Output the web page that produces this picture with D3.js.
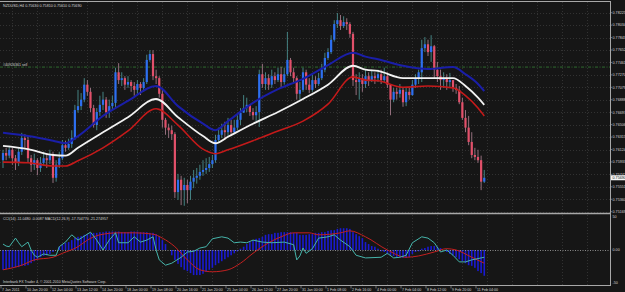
<!DOCTYPE html>
<html>
<head>
<meta charset="utf-8">
<script src="https://cdn.jsdelivr.net/npm/d3@7"></script>
<style>
  html, body { margin: 0; padding: 0; background: #161616; overflow: hidden; }
  svg { display: block; }
  text { font-family: "Liberation Sans", "DejaVu Sans", sans-serif; }
</style>
</head>
<body>
<div id="chart"></div>
<script>
// NZDUSD H4 candles, 7 Jan - 11 Feb 2011
const symbolTitle = "NZDUSD,H4";
const firstOpen = 0.7596;

const closes = [
  0.7607,0.7603,0.7612,0.7599,0.7593,0.7609,0.7630,0.7627,0.7599,0.7589,
  0.7596,0.7584,0.7592,0.7599,0.7596,0.7604,0.7569,0.7589,0.7599,0.7619,
  0.7615,0.7621,0.7630,0.7673,0.7679,0.7689,0.7712,0.7701,0.7676,0.7650,
  0.7670,0.7681,0.7689,0.7670,0.7679,0.7684,0.7731,0.7719,0.7722,0.7712,
  0.7716,0.7710,0.7704,0.7713,0.7707,0.7716,0.7750,0.7759,0.7725,0.7722,
  0.7698,0.7658,0.7646,0.7642,0.7636,0.7547,0.7566,0.7550,0.7558,0.7550,
  0.7563,0.7569,0.7572,0.7578,0.7581,0.7584,0.7590,0.7596,0.7627,0.7635,
  0.7642,0.7639,0.7650,0.7639,0.7646,0.7658,0.7669,0.7676,0.7681,0.7670,
  0.7665,0.7670,0.7728,0.7713,0.7722,0.7712,0.7725,0.7719,0.7728,0.7716,
  0.7728,0.7750,0.7731,0.7722,0.7698,0.7704,0.7731,0.7712,0.7704,0.7719,
  0.7713,0.7722,0.7735,0.7753,0.7762,0.7781,0.7805,0.7811,0.7802,0.7808,
  0.7805,0.7790,0.7719,0.7716,0.7722,0.7713,0.7725,0.7719,0.7725,0.7722,
  0.7728,0.7719,0.7725,0.7712,0.7689,0.7701,0.7698,0.7704,0.7685,0.7701,
  0.7696,0.7712,0.7722,0.7731,0.7768,0.7774,0.7762,0.7771,0.7735,0.7725,
  0.7719,0.7722,0.7716,0.7719,0.7707,0.7704,0.7685,0.7661,0.7646,0.7624,
  0.7604,0.7601,0.7596,0.7563,0.7569
];
const highs = [
  0.7612,0.7615,0.7618,0.7615,0.7604,0.7615,0.7638,0.7636,0.7633,0.7604,
  0.7606,0.7599,0.7601,0.7609,0.7607,0.7612,0.7609,0.7596,0.7609,0.7627,
  0.7626,0.7629,0.7642,0.7681,0.7704,0.7699,0.7722,0.7719,0.7707,0.7681,
  0.7676,0.7695,0.7701,0.7693,0.7689,0.7695,0.7738,0.7745,0.7731,0.7725,
  0.7725,0.7719,0.7716,0.7719,0.7716,0.7722,0.7758,0.7765,0.7765,0.7735,
  0.7725,0.7704,0.7661,0.7652,0.7649,0.7639,0.7575,0.7572,0.7569,0.7566,
  0.7572,0.7581,0.7584,0.7589,0.7596,0.7599,0.7601,0.7604,0.7635,0.7646,
  0.7652,0.7655,0.7661,0.7658,0.7658,0.7665,0.7676,0.7696,0.7692,0.7682,
  0.7676,0.7679,0.7735,0.7744,0.7731,0.7728,0.7735,0.7731,0.7738,0.7739,
  0.7738,0.7793,0.7753,0.7738,0.7725,0.7716,0.7738,0.7735,0.7722,0.7727,
  0.7725,0.7730,0.7744,0.7761,0.7768,0.7788,0.7811,0.7822,0.7819,0.7817,
  0.7814,0.7808,0.7793,0.7728,0.7731,0.7728,0.7735,0.7731,0.7735,0.7731,
  0.7735,0.7735,0.7738,0.7731,0.7713,0.7707,0.7707,0.7713,0.7707,0.7707,
  0.7707,0.7719,0.7728,0.7735,0.7781,0.7785,0.7781,0.7788,0.7773,0.7747,
  0.7735,0.7731,0.7728,0.7730,0.7719,0.7713,0.7710,0.7692,0.7673,0.7664,
  0.7639,0.7615,0.7612,0.7603,0.7581
];
const lows = [
  0.7584,0.7596,0.7599,0.7589,0.7581,0.7587,0.7604,0.7615,0.7593,0.7578,
  0.7581,0.7573,0.7578,0.7587,0.7584,0.7590,0.7561,0.7563,0.7584,0.7596,
  0.7609,0.7612,0.7615,0.7627,0.7669,0.7673,0.7685,0.7695,0.7670,0.7646,
  0.7642,0.7664,0.7673,0.7661,0.7661,0.7673,0.7676,0.7713,0.7710,0.7704,
  0.7707,0.7701,0.7695,0.7698,0.7696,0.7701,0.7713,0.7747,0.7719,0.7713,
  0.7692,0.7646,0.7635,0.7630,0.7627,0.7538,0.7535,0.7527,0.7526,0.7530,
  0.7535,0.7553,0.7560,0.7566,0.7572,0.7575,0.7578,0.7584,0.7592,0.7624,
  0.7630,0.7627,0.7632,0.7633,0.7636,0.7642,0.7650,0.7669,0.7670,0.7664,
  0.7658,0.7655,0.7647,0.7707,0.7704,0.7704,0.7707,0.7713,0.7716,0.7707,
  0.7712,0.7725,0.7725,0.7716,0.7689,0.7689,0.7701,0.7704,0.7699,0.7701,
  0.7707,0.7710,0.7719,0.7731,0.7750,0.7759,0.7778,0.7799,0.7796,0.7799,
  0.7796,0.7784,0.7710,0.7696,0.7689,0.7701,0.7707,0.7710,0.7716,0.7713,
  0.7716,0.7713,0.7716,0.7707,0.7665,0.7685,0.7689,0.7692,0.7678,0.7679,
  0.7689,0.7695,0.7707,0.7713,0.7716,0.7762,0.7756,0.7747,0.7722,0.7716,
  0.7704,0.7707,0.7704,0.7707,0.7701,0.7698,0.7682,0.7658,0.7639,0.7619,
  0.7599,0.7596,0.7592,0.7550,0.7561
];

// moving average band, read at these bar indices
const maIdx    = [0,8,16,20,24,32,40,49,56,64,68,72,80,88,96,104,112,116,120,128,136,144,148,152,154];
const maUpper  = [0.7638,0.7633,0.7626,0.7622,0.7633,0.7664,0.7687,0.7710,0.7679,0.7652,0.7642,0.7656,0.7684,0.7705,0.7721,0.7742,0.7761,0.7755,0.7751,0.7741,0.7736,0.7739,0.7728,0.7713,0.7702];
const maMiddle = [0.7618,0.7613,0.7604,0.7603,0.7615,0.7639,0.7662,0.7690,0.7662,0.7633,0.7622,0.7632,0.7652,0.7670,0.7690,0.7712,0.7741,0.7735,0.7733,0.7722,0.7722,0.7722,0.7710,0.7692,0.7681];
const maLower  = [0.7593,0.7592,0.7587,0.7587,0.7595,0.7615,0.7641,0.7675,0.7650,0.7613,0.7606,0.7612,0.7626,0.7641,0.7656,0.7682,0.7724,0.7719,0.7718,0.7708,0.7710,0.7707,0.7695,0.7676,0.7664];

// sub window: MACD histogram (one per bar), signal and CCI
const macdHist = [
  -30,-29,-27,-27,-26,-26,-24,-24,-23,-20,
  -17,-14,-11,-9,-8,-6,-3,0,5,8,
  11,12,15,18,20,21,23,24,26,26,
  26,27,27,28,28,28,28,28,27,27,
  27,28,28,28,27,27,27,26,26,24,
  21,15,9,0,-8,-15,-21,-26,-30,-32,
  -35,-38,-38,-38,-36,-33,-30,-27,-23,-20,
  -17,-14,-11,-8,-5,-2,2,5,9,12,
  15,17,18,20,23,24,24,26,26,27,
  27,27,27,26,26,23,23,23,24,24,
  26,26,27,27,29,30,30,32,33,33,
  33,32,27,24,21,18,12,9,6,5,
  2,-2,-3,-6,-8,-9,-11,-11,-12,-12,
  -11,-6,-3,-2,2,3,5,6,6,5,
  3,0,-3,-6,-8,-11,-14,-17,-20,-23,
  -24,-27,-32,-35,-39
];
const signalIdx  = [0,6,10,16,19,24,27,31,37,42,48,51,55,59,63,67,72,76,80,85,89,93,98,101,108,111,116,123,129,133,138,142,145,150,154];
const signalVals = [-30,-23,-15,-11,-5,5,15,23,26,26,24,18,5,-15,-30,-33,-30,-20,-5,11,20,26,26,23,26,29,20,0,-11,-9,-3,2,0,-11,-20];
const cciIdx  = [0,1,2,4,5,6,8,9,10,11,13,15,17,18,20,22,24,25,28,30,32,34,36,37,40,42,44,46,48,49,50,52,54,57,59,61,63,65,67,70,72,74,76,78,80,83,86,90,93,94,95,96,97,99,101,104,106,108,111,113,116,121,123,125,127,129,131,134,136,138,140,142,144,146,148,150,153,154];
const cciVals = [9,6,5,18,11,5,12,0,-8,-11,-6,-8,-8,5,12,23,15,18,27,15,0,15,26,11,11,20,12,15,20,0,-15,-23,-20,-11,-3,-2,3,5,17,20,18,11,12,11,15,12,11,12,8,-15,-9,3,-5,2,18,20,23,15,5,-8,-12,-11,-5,-12,-11,-8,11,20,18,11,-3,0,-8,-18,-18,-15,-12,-11];

const dateLabels = ["7 Jan 2011","10 Jan 20:00","12 Jan 04:00","13 Jan 12:00","14 Jan 20:00","18 Jan 00:00","19 Jan 08:00","20 Jan 16:00","21 Jan 20:00","25 Jan 04:00","26 Jan 12:00","27 Jan 20:00","31 Jan 00:00","1 Feb 08:00","2 Feb 16:00","4 Feb 00:00","7 Feb 04:00","8 Feb 12:00","9 Feb 20:00","11 Feb 04:00"];
const priceLabels = ["0.78225","0.78034","0.77843","0.77652","0.77461","0.77270","0.77079","0.76888","0.76697","0.76506","0.76315","0.76124","0.75933","0.75742","0.75551","0.75360","0.75169"];
const indLabels = [["50", 50], ["0.00", 0], ["-50", -50]];
const sellLevel = 0.77390;
const sellText = "#40926361 sell";
const indTitle = "CCI(14) -11.0480 -0.0087  MACD(12,26,9) -17.704770 -21.274957";
const copyright = "Interbank FX Trader 4, \u00a9 2001-2010 MetaQuotes Software Corp.";

function drawChart() {
  const W = 625, H = 292;
  const right = 610;
  const opens = closes.map((c, i) => i === 0 ? firstOpen : closes[i - 1]);

  const x = d3.scaleLinear().domain([0, 195]).range([3, 3 + 195 * 3.125]);
  const y = d3.scaleLinear().domain([0.75169, 0.78225]).range([211.7, 12.7]);
  const yi = d3.scaleLinear().domain([-50, 50]).range([283, 217]);

  const svg = d3.select("#chart").append("svg")
    .attr("width", W).attr("height", H)
    .style("background", "#161616");

  const defs = svg.append("defs");
  defs.append("clipPath").attr("id", "mainClip").append("rect")
    .attr("x", 0).attr("y", 2).attr("width", right).attr("height", 211);
  defs.append("clipPath").attr("id", "indClip").append("rect")
    .attr("x", 0).attr("y", 215).attr("width", right).attr("height", 70);

  // grid
  const grid = svg.append("g").attr("stroke", "#3a3a3a").attr("stroke-width", 0.8)
    .attr("stroke-dasharray", "1,2");
  for (let k = 0; x(8 * k + 3) < right; k++) {
    const gx = Math.round(x(8 * k + 3)) + 0.5;
    grid.append("line").attr("x1", gx).attr("x2", gx).attr("y1", 2).attr("y2", 213);
    grid.append("line").attr("x1", gx).attr("x2", gx).attr("y1", 215).attr("y2", 285);
  }
  priceLabels.forEach(l => {
    const gy = Math.round(y(+l)) + 0.5;
    grid.append("line").attr("x1", 0).attr("x2", right).attr("y1", gy).attr("y2", gy);
  });

  // order level
  const main = svg.append("g").attr("clip-path", "url(#mainClip)");
  main.append("line")
    .attr("x1", 0).attr("x2", right)
    .attr("y1", y(sellLevel)).attr("y2", y(sellLevel))
    .attr("stroke", "#2f6b2f").attr("stroke-width", 1)
    .attr("stroke-dasharray", "3,1.5,1,1.5");
  svg.append("text")
    .attr("x", 3).attr("y", y(sellLevel) - 1.3)
    .attr("font-size", 3.6).attr("fill", "#d0d0d0")
    .text(sellText);

  // candles
  const idx = d3.range(closes.length);
  main.append("g").selectAll("line")
    .data(idx).join("line")
    .attr("x1", i => x(i)).attr("x2", i => x(i))
    .attr("y1", i => y(highs[i])).attr("y2", i => y(lows[i]))
    .attr("stroke", i => closes[i] >= opens[i] ? "#4a8e8e" : "#a27888")
    .attr("stroke-width", 0.9);
  main.append("g").selectAll("rect")
    .data(idx).join("rect")
    .attr("x", i => x(i) - 1.1)
    .attr("width", 2.2)
    .attr("y", i => y(Math.max(opens[i], closes[i])))
    .attr("height", i => Math.max(0.8, Math.abs(y(opens[i]) - y(closes[i]))))
    .attr("fill", i => closes[i] >= opens[i] ? "#2d6ff0" : "#e2506a");

  // moving averages
  const maLine = vals => d3.line()
    .x((d, j) => x(maIdx[j]))
    .y(d => y(d))
    .curve(d3.curveMonotoneX)(vals);
  main.append("path").attr("d", maLine(maUpper))
    .attr("fill", "none").attr("stroke", "#1a1ea8").attr("stroke-width", 2);
  main.append("path").attr("d", maLine(maLower))
    .attr("fill", "none").attr("stroke", "#c41a1a").attr("stroke-width", 1.6);
  main.append("path").attr("d", maLine(maMiddle))
    .attr("fill", "none").attr("stroke", "#f2f2f2").attr("stroke-width", 1.8);

  // indicator window
  const ind = svg.append("g").attr("clip-path", "url(#indClip)");
  ind.append("g").selectAll("rect")
    .data(macdHist).join("rect")
    .attr("x", (v, i) => x(i) - 0.8)
    .attr("width", 1.6)
    .attr("y", v => yi(Math.max(v, 0)))
    .attr("height", v => Math.abs(yi(v) - yi(0)))
    .attr("fill", "#1a1ad2");
  ind.append("line")
    .attr("x1", 0).attr("x2", right)
    .attr("y1", yi(0) + 0.5).attr("y2", yi(0) + 0.5)
    .attr("stroke", "#a8a8a8").attr("stroke-width", 0.8)
    .attr("stroke-dasharray", "1,1.5");
  ind.append("path")
    .attr("d", d3.line().x((d, j) => x(signalIdx[j])).y(d => yi(d)).curve(d3.curveMonotoneX)(signalVals))
    .attr("fill", "none").attr("stroke", "#c42020").attr("stroke-width", 1);
  ind.append("path")
    .attr("d", d3.line().x((d, j) => x(cciIdx[j])).y(d => yi(d))(cciVals))
    .attr("fill", "none").attr("stroke", "#45b4aa").attr("stroke-width", 1);

  // frames
  const frame = svg.append("g").attr("stroke", "#a8a8a8").attr("fill", "none");
  frame.append("line").attr("x1", 0).attr("x2", right + 0.5).attr("y1", 1.5).attr("y2", 1.5);
  frame.append("line").attr("x1", right + 0.5).attr("x2", right + 0.5).attr("y1", 1).attr("y2", 286);
  frame.append("line").attr("x1", 0).attr("x2", right + 0.5).attr("y1", 213.5).attr("y2", 213.5).attr("stroke-width", 1.4);
  frame.append("line").attr("x1", 0).attr("x2", right + 0.5).attr("y1", 285.5).attr("y2", 285.5);

  // price axis
  const axis = svg.append("g").attr("font-size", 3.7).attr("fill", "#d4d4d4");
  priceLabels.forEach(l => {
    const py = y(+l);
    axis.append("line").attr("x1", right).attr("x2", right + 2).attr("y1", py).attr("y2", py)
      .attr("stroke", "#a8a8a8").attr("stroke-width", 0.6);
    axis.append("text").attr("x", right + 2.5).attr("y", py + 1.3).text(l);
  });
  const last = closes[closes.length - 1];
  axis.append("rect").attr("x", right + 1).attr("y", y(last) - 2.5)
    .attr("width", 15).attr("height", 5).attr("fill", "#f4f4f4");
  axis.append("text").attr("x", right + 2.5).attr("y", y(last) + 1.3)
    .attr("fill", "#111").text(last.toFixed(5));

  indLabels.forEach(([t, v]) => {
    axis.append("text").attr("x", right + 2.5).attr("y", yi(v) + 1.3).text(t);
  });

  // time axis
  const timeAxis = svg.append("g").attr("font-size", 3.6).attr("fill", "#d4d4d4");
  dateLabels.forEach((t, k) => {
    const tx = x(8 * k);
    timeAxis.append("line").attr("x1", tx - 2).attr("x2", tx - 2).attr("y1", 285.5).attr("y2", 288.5)
      .attr("stroke", "#a8a8a8").attr("stroke-width", 0.6);
    timeAxis.append("text").attr("x", tx - 1).attr("y", 290.5).text(t);
  });

  // texts
  const n = closes.length - 1;
  const ohlc = [opens[n], highs[n], lows[n], closes[n]].map(v => v.toFixed(5)).join(" ");
  svg.append("text").attr("x", 3).attr("y", 6.5)
    .attr("font-size", 3.7).attr("fill", "#d4d4d4")
    .text(symbolTitle + " " + ohlc);
  svg.append("text").attr("x", 3).attr("y", 219.5)
    .attr("font-size", 3.6).attr("fill", "#d4d4d4")
    .text(indTitle);
  svg.append("text").attr("x", 3).attr("y", 283)
    .attr("font-size", 3.6).attr("fill", "#d4d4d4")
    .text(copyright);
}

drawChart();
</script>
</body>
</html>
